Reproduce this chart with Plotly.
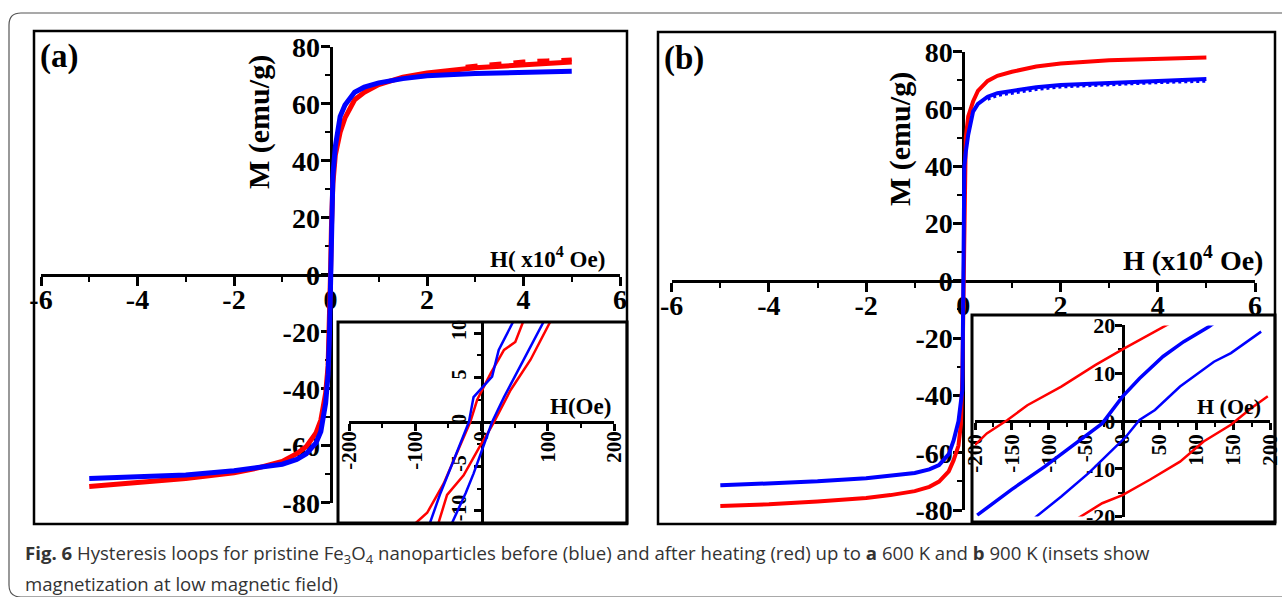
import plotly.graph_objects as go

W, HT = 1282, 597
def X(px): return px / W
def Y(py): return 1 - py / HT

RED = "rgb(255,0,0)"
BLUE = "rgb(0,0,255)"
SERIF = "Liberation Serif"

# ---------------- data ----------------
# main loops, H in 10^4 Oe
H_main = [-5, -4, -3, -2, -1.5, -1, -0.7, -0.5, -0.3, -0.2, -0.1, -0.05, -0.02, 0,
          0.02, 0.05, 0.1, 0.2, 0.3, 0.5, 0.7, 1, 1.5, 2, 3, 4, 5]
a_blue = [-71.5, -71, -70.3, -68.8, -67.8, -66.5, -64.8, -62.8, -59, -55, -45, -35, -20, 0,
          20, 35, 45, 55.5, 59.5, 64, 65.8, 67.3, 68.8, 69.8, 70.6, 71.1, 71.4]
a_red = [-74.3, -73, -71.5, -69.5, -67.8, -65.5, -62.8, -60.3, -55.5, -51, -41.5, -32, -17, 0,
         17, 32, 42, 50, 55, 61.4, 64, 66.7, 69.3, 70.8, 72.6, 73.8, 74.6]
a_red2_H = [2.8, 3.5, 4, 4.5, 5]
a_red2 = [73.0, 74.2, 74.8, 75.2, 75.5]

b_red = [-78.6, -78, -77, -75.8, -74.8, -73.4, -71.9, -70.1, -66.5, -62.6, -57.5, -50, -33, 0,
         33, 50, 57.4, 62.6, 66.3, 69.8, 71.6, 73, 74.8, 75.9, 77, 77.6, 78]
b_blue = [-71.4, -70.8, -70, -68.9, -68.1, -67.1, -65.8, -64.3, -60.5, -55.7, -49, -43, -38, 0,
          40, 45, 51, 59.1, 61.8, 64.3, 65.5, 66.3, 67.6, 68.4, 69.2, 70, 70.5]
b_blue2_H = [0.5, 0.7, 1, 1.5, 2, 3, 4, 5]
b_blue2 = [63.4, 64.7, 65.5, 66.8, 67.7, 68.5, 69.2, 69.7]

# inset (a), H in Oe
ia_blue_desc_H = [-79, -62, -42, -19, -12, 16, 26, 48]
ia_blue_desc_M = [-11.6, -8, -4.3, 0, 2.8, 5.1, 8.1, 11.3]
ia_blue_asc_H = [-46, -24, -12, 1, 16, 34, 69, 94]
ia_blue_asc_M = [-11.6, -8, -5.8, -3.2, 0, 2.8, 7.7, 11.3]
ia_red_desc_H = [-103, -82, -57, -37, -17, -6.5, 14, 34, 51, 63]
ia_red_desc_M = [-11.6, -10.2, -6.9, -3.5, 0, 2.5, 5.5, 8.1, 9, 11.3]
ia_red_asc_H = [-66, -52, -27, -12, -1.5, 9, 19, 44, 74, 104]
ia_red_asc_M = [-11.6, -8.2, -6, -3.9, -2.6, -1.3, 0, 3.6, 7, 11.3]

# inset (b), H in Oe
ib_red_up_H = [-200, -184, -156, -129, -83, -37, 0, 27.5, 57, 65]
ib_red_up_M = [-5, -2.6, 0.2, 3.3, 7.2, 11.7, 15, 17.3, 19.7, 20.5]
ib_red_lo_H = [-62, -57, -27.5, 0, 37, 78, 110, 147, 174, 197]
ib_red_lo_M = [-20.5, -20, -17.2, -15.5, -12.3, -8.5, -4.3, -0.8, 2.6, 5.2]
ib_blue_up_H = [-197, -151, -106, -60, -27.5, 0, 23, 55, 83, 117, 124]
ib_blue_up_M = [-19.7, -14.4, -9.6, -4.3, -0.5, 5.1, 8.9, 13.5, 16.6, 19.7, 20.5]
ib_blue_lo_H = [-120, -117, -83, -46, -14, 4.6, 23, 44, 78, 124, 147, 188]
ib_blue_lo_M = [-20.5, -20, -15.8, -10.9, -6.1, -3.3, 0.2, 2.3, 7.2, 12.4, 14.2, 18.7]

# tick labels
main_x_ticks = [-6, -4, -2, 0, 2, 4, 6]
main_y_ticks = [80, 60, 40, 20, 0, -20, -40, -60, -80]
ia_x_ticks = [-200, -100, 0, 100, 200]
ia_y_ticks = [10, 5, 0, -5, -10]
ib_x_ticks = [-200, -150, -100, -50, 0, 50, 100, 150, 200]
ib_y_ticks = [20, 10, 0, -10, -20]

caption1 = ("<b>Fig. 6</b> Hysteresis loops for pristine Fe<sub>3</sub>O<sub>4</sub> nanoparticles before (blue) "
            "and after heating (red) up to <b>a</b> 600 K and <b>b</b> 900 K (insets show")
caption2 = "magnetization at low magnetic field)"

# ---------------- figure ----------------
fig = go.Figure()

def line(x, y, ax, color, width, dash="solid"):
    fig.add_trace(go.Scatter(x=x, y=y, xaxis="x" + ax, yaxis="y" + ax, mode="lines",
                             line=dict(color=color, width=width, dash=dash),
                             showlegend=False, hoverinfo="skip"))

line(H_main, a_red, "", RED, 5)
line(a_red2_H, a_red2, "", RED, 4, "dash")
line(H_main, a_blue, "", BLUE, 5)

line(ia_red_desc_H, ia_red_desc_M, "2", RED, 2.5)
line(ia_red_asc_H, ia_red_asc_M, "2", RED, 2.5)
line(ia_blue_desc_H, ia_blue_desc_M, "2", BLUE, 2.5)
line(ia_blue_asc_H, ia_blue_asc_M, "2", BLUE, 2.5)

line(H_main, b_red, "3", RED, 4)
line(b_blue2_H, b_blue2, "3", BLUE, 3, "dot")
line(H_main, b_blue, "3", BLUE, 4)

line(ib_red_up_H, ib_red_up_M, "4", RED, 2.5)
line(ib_red_lo_H, ib_red_lo_M, "4", RED, 2.5)
line(ib_blue_up_H, ib_blue_up_M, "4", BLUE, 3.5)
line(ib_blue_lo_H, ib_blue_lo_M, "4", BLUE, 2.5)


def axis(domain, rng, pos, ticks, mdtick, size, angle=0, tlen=9, mlen=5, lw=3, standoff=0):
    return dict(domain=domain, range=rng, anchor="free", position=pos, automargin=False,
                showline=True, linecolor="black", linewidth=lw,
                tickmode="array", tickvals=ticks, ticktext=[str(t) for t in ticks],
                ticks="outside", ticklen=tlen, tickwidth=2.5, tickcolor="black",
                minor=dict(tickmode="linear", tick0=0, dtick=mdtick, ticks="outside",
                           ticklen=mlen, tickwidth=2, tickcolor="black", showgrid=False),
                showgrid=False, zeroline=False, tickangle=angle, ticklabelstandoff=standoff,
                tickfont=dict(family=SERIF, size=size, color="black", weight="bold"),
                layer="below traces", fixedrange=True)

a_y0, a_y1 = 502.7, 46.7
b_y0, b_y1 = 510.0, 51.7
layout_axes = dict(
    xaxis=axis([X(41), X(620)], [-6, 6], Y((a_y0 + a_y1) / 2), main_x_ticks, 1, 28, standoff=-10),
    yaxis=axis([Y(a_y0), Y(a_y1)], [-80, 80], X(330.5), main_y_ticks, 10, 28, standoff=-5),
    xaxis2=axis([X(349), X(614)], [-200, 200], Y(422), ia_x_ticks, 50, 21, -90, 7, 4, 2.5, -8),
    yaxis2=axis([Y(522), Y(322)], [-11.24, 11.24], X(481.5), ia_y_ticks, 2.5, 20, -90, 7, 4, 2.5),
    xaxis3=axis([X(671.7), X(1255)], [-6, 6], Y((b_y0 + b_y1) / 2), main_x_ticks, 1, 28, standoff=-10),
    yaxis3=axis([Y(b_y0), Y(b_y1)], [-80, 80], X(963.4), main_y_ticks, 10, 28, standoff=-5),
    xaxis4=axis([X(975), X(1270)], [-200, 200], Y(421), ib_x_ticks, 25, 21, -90, 7, 4, 2.5, -4),
    yaxis4=axis([Y(516.6), Y(325.4)], [-20, 20], X(1122.5), ib_y_ticks, 5, 22, 0, 7, 4, 2.5, -5),
)

shapes = []
def rect(x0, y0, x1, y1, w):
    shapes.append(dict(type="rect", xref="paper", yref="paper", x0=X(x0), x1=X(x1), y0=Y(y1), y1=Y(y0),
                       line=dict(color="black", width=w), fillcolor="rgba(0,0,0,0)", layer="above"))

rect(34, 31, 627, 524, 2.5)
rect(658, 32, 1275, 524, 2.5)
rect(338, 322, 627, 523, 3)
rect(972, 315, 1275, 522, 3)

# outer rounded frame
r = 12
pts = [
    ("M", (1300, 13)), ("L", (9 + r, 13)), ("Q", (9, 13), (9, 13 + r)),
    ("L", (9, 597 - r)), ("Q", (9, 597), (9 + r, 597)), ("L", (1300, 597)),
]
path = ""
for p in pts:
    cmd = p[0]
    coords = " ".join(f"{X(px):.5f},{Y(py):.5f}" for px, py in p[1:])
    path += f"{cmd} {coords} "
shapes.append(dict(type="path", xref="paper", yref="paper", path=path.strip(),
                   line=dict(color="#555555", width=1.2), layer="below"))

ann = []
def text(t, px, py, size, angle=0, family=SERIF, bold=True, xanchor="center", color="black"):
    ann.append(dict(text=t, x=X(px), y=Y(py), xref="paper", yref="paper", showarrow=False,
                    xanchor=xanchor, yanchor="middle", textangle=angle,
                    font=dict(family=family, size=size, color=color,
                              weight="bold" if bold else "normal")))

text("(a)", 59, 57, 33)
text("(b)", 684, 58, 33)
text("M (emu/g)", 259, 122, 30, -90)
text("M (emu/g)", 900, 139, 30, -90)
text("H( x10<sup>4</sup> Oe)", 547, 257, 23)
text("H (x10<sup>4</sup> Oe)", 1193, 258, 28)
text("H(Oe)", 580, 406, 23)
text("H (Oe)", 1229, 406, 22)
text(caption1, 23, 554, 18.6, family="Open Sans", bold=False, xanchor="left", color="#333333")
text(caption2, 23, 583, 18.6, family="Open Sans", bold=False, xanchor="left", color="#333333")

fig.update_layout(template="none", width=W, height=HT,
                  margin=dict(l=0, r=0, t=0, b=0, pad=0, autoexpand=False),
                  paper_bgcolor="white", plot_bgcolor="rgba(0,0,0,0)",
                  showlegend=False, shapes=shapes, annotations=ann, hovermode=False,
                  **layout_axes)

fig.write_html("out.html", config=dict(displayModeBar=False),
               post_script="document.body.style.margin='0px';document.body.style.overflow='hidden';")
